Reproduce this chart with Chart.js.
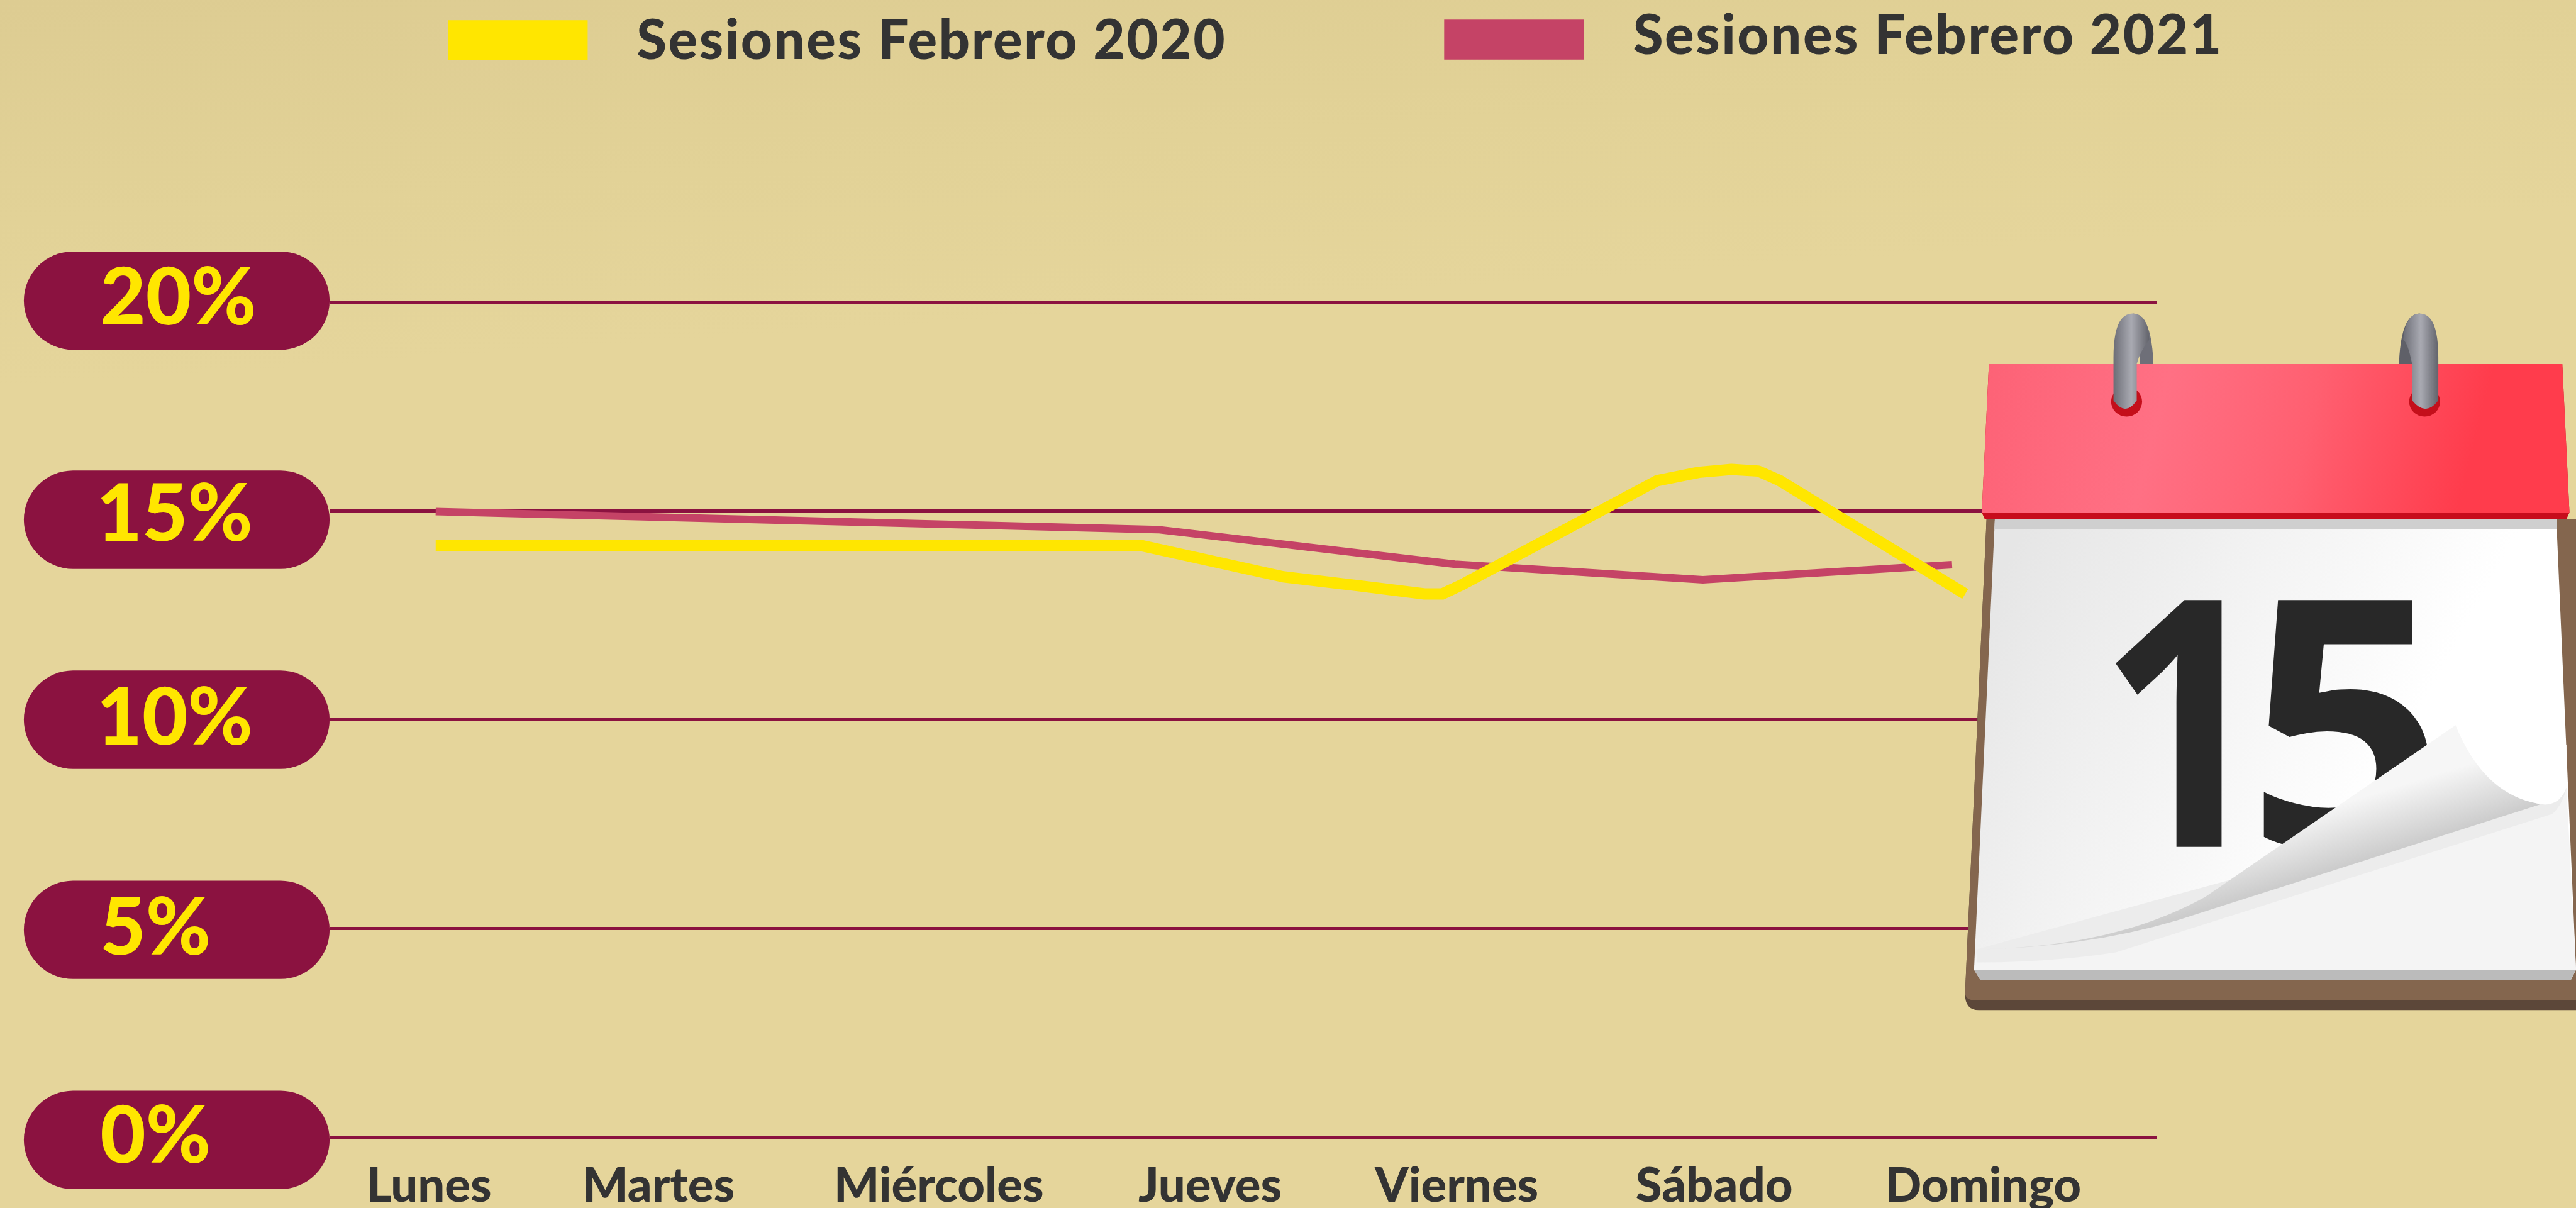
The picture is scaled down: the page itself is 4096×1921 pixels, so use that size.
<!DOCTYPE html>
<html>
<head>
<meta charset="utf-8">
<style>
html, body { margin: 0; padding: 0; width: 4096px; height: 1921px; overflow: hidden; background: linear-gradient(176deg, #ddcc92 0%, #e2d297 16%, #e5d59b 28%, #e5d59b 100%); }
#wrap { position: absolute; left: 0; top: 0; width: 4096px; height: 1921px; }
#calendar { position: absolute; left: 0; top: 0; width: 4096px; height: 1921px; pointer-events: none; }
</style>
<script src="https://cdn.jsdelivr.net/npm/chart.js@4"></script>
</head>
<body>
<div id="wrap"><canvas id="chart" width="4096" height="1921"></canvas></div>

<svg id="calendar" viewBox="0 0 4322 2027" xmlns="http://www.w3.org/2000/svg">
  <defs>
    <linearGradient id="band" x1="3330" y1="611" x2="4310" y2="860" gradientUnits="userSpaceOnUse">
      <stop offset="0" stop-color="#fd6276"/>
      <stop offset="0.3" stop-color="#ff7084"/>
      <stop offset="0.55" stop-color="#ff5f70"/>
      <stop offset="0.82" stop-color="#ff3c4c"/>
      <stop offset="1" stop-color="#ff3c4c"/>
    </linearGradient>
    <linearGradient id="page" x1="3400" y1="880" x2="4250" y2="1350" gradientUnits="userSpaceOnUse">
      <stop offset="0" stop-color="#e6e6e6"/>
      <stop offset="0.75" stop-color="#ffffff"/>
    </linearGradient>
    <linearGradient id="curl" x1="3870" y1="1367" x2="3900" y2="1463" gradientUnits="userSpaceOnUse">
      <stop offset="0" stop-color="#f6f6f6"/>
      <stop offset="1" stop-color="#cccccc"/>
    </linearGradient>
    <linearGradient id="ring" x1="0" y1="0" x2="1" y2="0">
      <stop offset="0" stop-color="#6c6d76"/>
      <stop offset="0.5" stop-color="#a9aab2"/>
      <stop offset="1" stop-color="#62636b"/>
    </linearGradient>
  </defs>

  <!-- back of the rings -->
  <path d="M3590 611 V590 Q3588 526 3578 526 Q3610 526 3613 611 Z" fill="#6e6f78"/>
  <path d="M4025 611 Q4028 526 4060 526 L4060 611 Z" fill="#5f6068"/>

  <!-- board -->
  <path d="M3333 871 L3297 1666 Q3296 1695 3320 1695 L4322 1695 L4322 871 Z" fill="#5c4739"/>
  <path d="M3333 871 L3297 1666 Q3298 1678 3312 1678 L4322 1678 L4322 871 Z" fill="#84664e"/>

  <!-- page -->
  <path d="M3347 871 L4289 871 L4322 1627 L4313 1645 L3323 1645 L3312 1627 Z" fill="url(#page)"/>
  <path d="M3316 1600 Q3520 1590 3700 1520 L4306 1322 L4322 1627 L3312 1627 Z" fill="#f4f4f4"/>
  <path d="M3312 1627 L4322 1627 L4313 1645 L3323 1645 Z" fill="#bbbbbb"/>
  <path d="M3347 871 L4289 871 L4290 888 L3346 888 Z" fill="#cfcfcf"/>

  <text x="3520" y="1421" font-family="'Open Sans'" font-weight="700" font-size="580" fill="#282828" textLength="287" lengthAdjust="spacingAndGlyphs">1</text>
  <text x="3770" y="1421" font-family="'Open Sans'" font-weight="700" font-size="580" fill="#282828">5</text>

  <!-- curled corner -->
  <path d="M4306 1322 Q4300 1350 4282 1366 L3550 1598 Q3440 1615 3316 1615 L3316 1593 Z" fill="#ececec"/>
  <path d="M3316 1593 C3480 1590 3600 1560 3700 1505 L4120 1217 Q4160 1310 4261 1350 L3654 1544 Q3500 1590 3316 1593 Z" fill="url(#curl)"/>
  <path d="M4120 1217 Q4170 1340 4270 1350 Q4295 1350 4306 1322 L4306 1250 Z" fill="#ffffff"/>

  <!-- top band -->
  <path d="M3337 611 L4299 611 L4311 860 L4306 871 L3330 871 L3325 860 Z" fill="#c70c1c"/>
  <path d="M3337 611 L4299 611 L4311 860 L3325 860 Z" fill="url(#band)"/>

  <!-- holes and front of the rings -->
  <ellipse cx="3568" cy="674" rx="26" ry="25" fill="#c40f1b"/>
  <ellipse cx="4068" cy="674" rx="26" ry="25" fill="#c40f1b"/>
  <path d="M3546 672 V600 Q3546 526 3578 526 Q3604 526 3606 570 Q3590 590 3585 611 V672 Q3566 700 3546 672 Z" fill="url(#ring)"/>
  <path d="M4047 672 V611 Q4040 575 4032 570 Q4036 526 4060 526 Q4091 526 4091 600 V672 Q4070 700 4047 672 Z" fill="url(#ring)"/>
</svg>

<script>
const dayLabels = ['Lunes', 'Martes', 'Miércoles', 'Jueves', 'Viernes', 'Sábado', 'Domingo'];
const dayTickPos = [-0.026, 0.882, 1.991, 3.064, 4.04, 5.059, 6.123];

const percentLabels = ['0%', '5%', '10%', '15%', '20%'];

const yellowName = 'Sesiones Febrero 2020';
const yellowDays = [0, 2.79, 3.354, 3.66, 3.913, 3.983, 4.054, 4.833, 4.998, 5.127, 5.233, 5.316, 6.052];
const yellowValues = [14.17, 14.17, 13.42, 13.2, 13.01, 13.01, 13.21, 15.72, 15.92, 15.99, 15.95, 15.73, 13.01];

const redName = 'Sesiones Febrero 2021';
const redDays = [0, 2.858, 4.033, 5.014, 6];
const redValues = [14.98, 14.55, 13.72, 13.35, 13.71];

const SCALE = 4096 / 4322;
const WINE = '#8b1240';
const YELLOW = '#ffe600';
const RED = '#c54366';
const INK = '#333333';
const FONT = 'Lato';

function toPoints(days, values) {
    return days.map((d, i) => ({ x: d, y: values[i] }));
}

// pills behind the percent labels, a little off the grid lines as in the original
const pillOffsets = { '0%': 4, '5%': 2, '10%': 0, '15%': 15, '20%': -2 };
const textOffsets = { '0%': 0, '5%': 1, '10%': -1, '15%': 8, '20%': -5 };
const textLefts = { '0%': 168, '5%': 168, '10%': 162, '15%': 162, '20%': 168 };

const pillPlugin = {
    id: 'pills',
    afterDraw(chart) {
        const ctx = chart.ctx;
        const yScale = chart.scales.y;
        ctx.save();
        yScale.ticks.forEach((tick, i) => {
            const label = percentLabels[i];
            const y = yScale.getPixelForValue(tick.value);
            const h = 165 * SCALE;
            ctx.fillStyle = WINE;
            ctx.beginPath();
            ctx.roundRect(40 * SCALE, y + (pillOffsets[label] * SCALE) - h / 2, 513 * SCALE, h, h / 2);
            ctx.fill();
            ctx.fillStyle = YELLOW;
            ctx.font = '900 ' + Math.round(132 * SCALE) + 'px ' + FONT;
            ctx.textAlign = 'left';
            ctx.textBaseline = 'middle';
            ctx.fillText(label, textLefts[label] * SCALE, y + textOffsets[label] * SCALE);
        });
        ctx.restore();
    }
};

// the two legend entries sit at uneven places, so they are drawn by hand
const legendSpots = [
    { box: 752, top: 34, text: 1068, mid: 70 },
    { box: 2423, top: 33, text: 2740, mid: 61 }
];

const legendPlugin = {
    id: 'sideLegend',
    afterDraw(chart) {
        const ctx = chart.ctx;
        ctx.save();
        chart.data.datasets.forEach((ds, i) => {
            const spot = legendSpots[i];
            ctx.fillStyle = ds.borderColor;
            ctx.fillRect(spot.box * SCALE, spot.top * SCALE, 234 * SCALE, 67 * SCALE);
            ctx.fillStyle = INK;
            ctx.font = '900 ' + Math.round(92 * SCALE) + 'px ' + FONT;
            ctx.letterSpacing = '2.5px';
            ctx.textAlign = 'left';
            ctx.textBaseline = 'middle';
            ctx.fillText(ds.label, spot.text * SCALE, spot.mid * SCALE);
        });
        ctx.restore();
    }
};

new Chart(document.getElementById('chart').getContext('2d'), {
    type: 'line',
    data: {
        datasets: [
            {
                label: yellowName,
                data: toPoints(yellowDays, yellowValues),
                borderColor: YELLOW,
                borderWidth: 18,
                pointRadius: 0,
                tension: 0,
                borderJoinStyle: 'round'
            },
            {
                label: redName,
                data: toPoints(redDays, redValues),
                borderColor: RED,
                borderWidth: 12,
                pointRadius: 0,
                tension: 0
            }
        ]
    },
    plugins: [pillPlugin, legendPlugin],
    options: {
        responsive: false,
        animation: false,
        layout: {
            padding: { left: 525, right: 667, top: 480, bottom: 0 }
        },
        plugins: {
            legend: { display: false },
            tooltip: { enabled: false }
        },
        scales: {
            x: {
                type: 'linear',
                min: -0.4175,
                max: 6.809,
                afterBuildTicks(scale) {
                    scale.ticks = dayTickPos.map(v => ({ value: v }));
                },
                afterFit(scale) {
                    scale.height = 112;
                },
                grid: { display: false },
                border: { display: false },
                ticks: {
                    autoSkip: false,
                    maxRotation: 0,
                    padding: 24,
                    color: INK,
                    font: { family: FONT, size: 76, weight: '900' },
                    callback: (value, index) => dayLabels[index]
                }
            },
            y: {
                min: 0,
                max: 20,
                afterFit(scale) {
                    scale.width = 0;
                },
                grid: { color: WINE, lineWidth: 5, drawTicks: false },
                border: { display: false },
                ticks: { display: false, stepSize: 5 }
            }
        }
    }
});
</script>
</body>
</html>
